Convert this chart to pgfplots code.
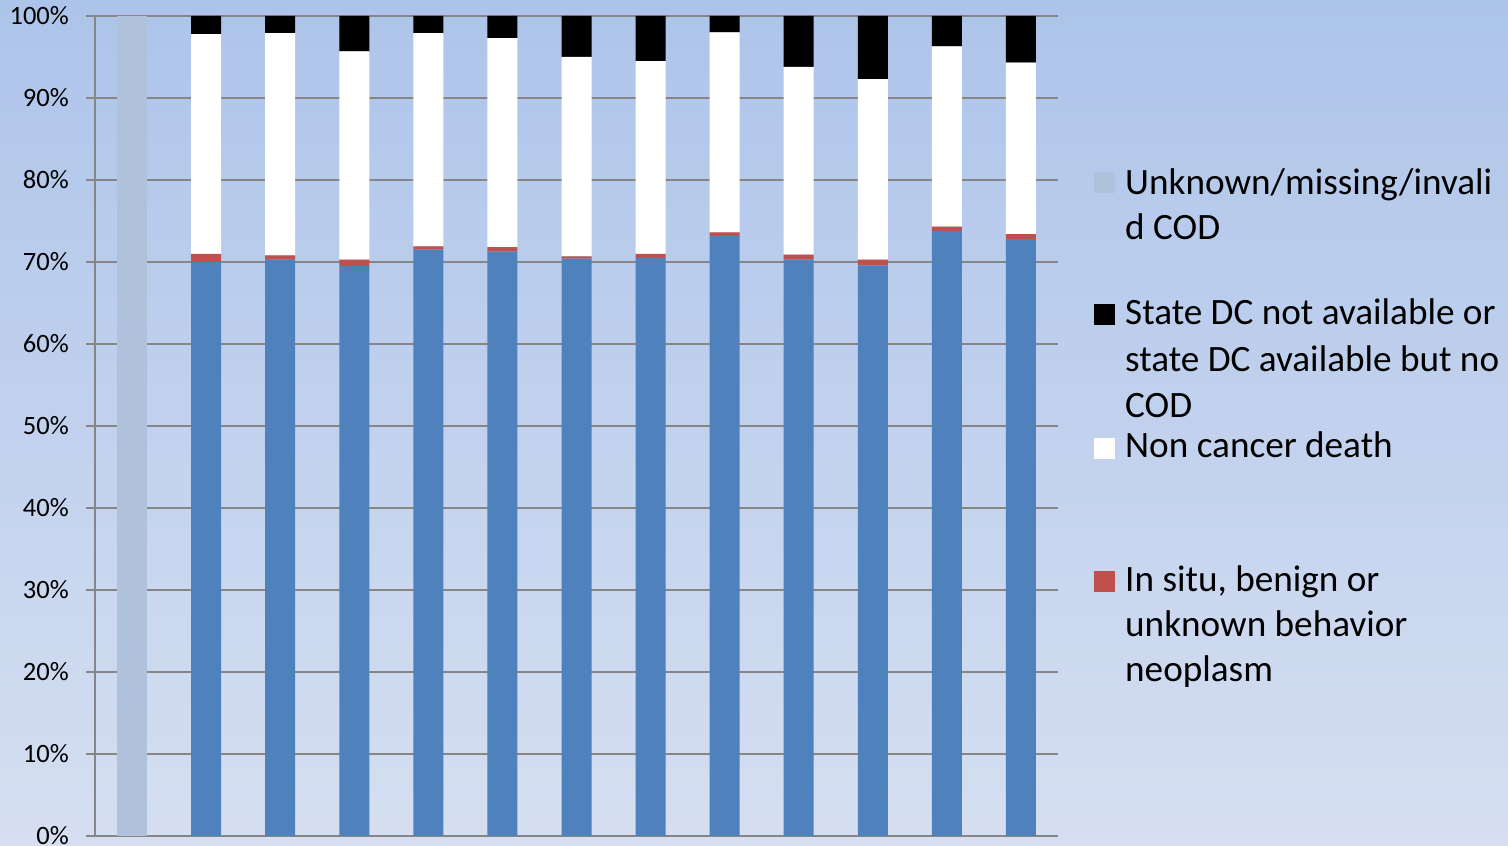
\documentclass[border=0pt]{standalone}
\usepackage{pgfplots}
\pgfplotsset{compat=1.18}
\usepackage{pgfplotstable}
\usepackage{fontspec}
\setmainfont{Carlito}
\definecolor{bgtop}{RGB}{173,196,234}
\definecolor{bgbot}{RGB}{214,223,241}
\definecolor{cblue}{RGB}{79,129,189}
\definecolor{cred}{RGB}{192,80,77}
\definecolor{cunk}{RGB}{176,193,220}
\definecolor{cgrid}{RGB}{134,134,134}
\pgfplotstableread{
x unk blue red white black
0 100 0 0 0 0
1 0 70.0 1.0 26.8 2.2
2 0 70.3 0.5 27.1 2.1
3 0 69.5 0.8 25.4 4.3
4 0 71.5 0.4 26.0 2.1
5 0 71.25 0.55 25.5 2.7
6 0 70.4 0.3 24.3 5.0
7 0 70.5 0.5 23.5 5.5
8 0 73.2 0.4 24.4 2.0
9 0 70.3 0.6 22.9 6.2
10 0 69.6 0.7 22.0 7.7
11 0 73.8 0.5 22.0 3.7
12 0 72.8 0.6 20.9 5.7
}\datatable
\begin{document}
\begin{tikzpicture}
\shade[top color=bgtop, bottom color=bgbot] (-95bp,-10bp) rectangle (1413bp,836bp);
\begin{axis}[
  scale only axis, width=963bp, height=820bp,
  xmin=-0.5, xmax=12.5, ymin=0, ymax=100,
  ybar stacked, bar width=0.405,
  axis lines=left,
  axis line style={-, draw=cgrid, line width=1.5bp},
  xtick=\empty,
  ytick={0,10,...,100},
  yticklabels={0\%,10\%,20\%,30\%,40\%,50\%,60\%,70\%,80\%,90\%,100\%},
  yticklabel style={font=\fontsize{26.5bp}{31bp}\selectfont, inner sep=0pt, anchor=east, xshift=-17bp},
  tick align=outside, major tick length=9bp,
  tick style={draw=cgrid, line width=1.5bp},
  ymajorgrids, grid style={draw=cgrid, line width=1.5bp},
  every axis plot/.append style={draw=none},
]
\addplot[fill=cblue] table[x=x,y=blue]{\datatable};
\addplot[fill=cred] table[x=x,y=red]{\datatable};
\addplot[fill=white] table[x=x,y=white]{\datatable};
\addplot[fill=black] table[x=x,y=black]{\datatable};
\addplot[fill=cunk] table[x=x,y=unk]{\datatable};
\end{axis}
\begin{scope}[every node/.style={anchor=base west, inner sep=0pt, font=\fontsize{37.2bp}{44bp}\selectfont}]
\fill[cunk] (999bp,643bp) rectangle (1020bp,664bp);
\node at (1030bp,641bp) {Unknown/missing/invali};
\node at (1030bp,596bp) {d COD};
\fill[black] (999bp,511bp) rectangle (1020bp,532bp);
\node at (1030bp,511bp) {State DC not available or};
\node at (1030bp,464.3bp) {state DC available but no};
\node at (1030bp,418.3bp) {COD};
\fill[white] (999bp,377bp) rectangle (1020bp,398bp);
\node at (1030bp,378bp) {Non cancer death};
\fill[cred] (999bp,244bp) rectangle (1020bp,265bp);
\node at (1030bp,244.3bp) {In situ, benign or};
\node at (1030bp,199bp) {unknown behavior};
\node at (1030bp,154bp) {neoplasm};
\end{scope}
\pgfresetboundingbox
\path[use as bounding box] (-95bp,-10bp) rectangle (1413bp,836bp);
\end{tikzpicture}
\end{document}
